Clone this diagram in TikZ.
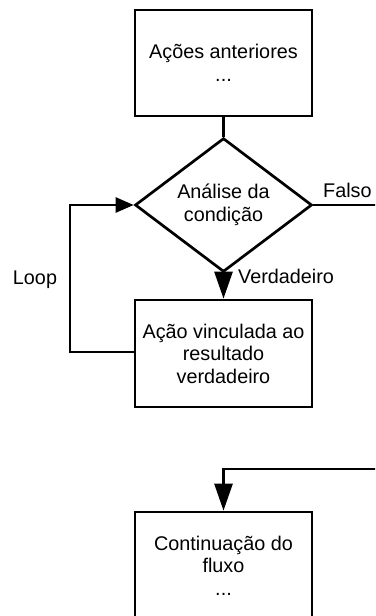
\documentclass[tikz,border=0pt]{standalone}
\usepackage{fontspec}
\setmainfont{Liberation Sans}
\usetikzlibrary{arrows.meta,shapes.geometric}
\tikzset{
  boxnode/.style={draw=black,line width=2.7pt,minimum width=177pt,minimum height=106pt,inner sep=0pt,align=center,font=\fontsize{19.8}{22.5}\selectfont},
  decnode/.style={draw=black,line width=2.7pt,shape=diamond,minimum width=177pt,minimum height=105pt,inner sep=0pt,align=center,font=\fontsize{19.8}{22.5}\selectfont},
  conn/.style={line width=2.7pt,line join=miter},
  downarrow/.style={conn,-{Triangle[length=27pt,width=18pt]}},
  sidearrow/.style={conn,-{Triangle[length=18pt,width=15pt]}},
  lbl/.style={font=\fontsize{19.8}{22.5}\selectfont,inner sep=0pt}
}
\begin{document}
\begin{tikzpicture}[x=1pt,y=-1pt]
\useasboundingbox (0,0) rectangle (375,616);
\fill[white] (0,0) rectangle (375,616);
\clip (0,0) rectangle (375,616);
\node[boxnode] (prev) at (223.5,63) {Ações anteriores\\...};
\node[decnode] (cond) at (223.5,205) {Análise da\\condição};
\node[boxnode,minimum height=107pt] (act) at (223.5,353.5) {Ação vinculada ao\\resultado\\verdadeiro};
\node[boxnode,minimum height=107pt] (cont) at (223.5,565.5) {Continuação do\\fluxo\\...};
\coordinate (falsoEnd) at (380,205);
\coordinate (retStart) at (380,469);
\coordinate (loopBot) at (70,352);
\coordinate (loopTop) at (70,205);
\draw[conn] (prev.south) -- (cond.north);
\draw[downarrow] (cond.south) -- (act.north);
\draw[conn] (cond.east) -- (falsoEnd);
\draw[sidearrow] (act.west |- loopBot) -- (loopBot) -- (loopTop) -- (cond.west);
\draw[downarrow] (retStart) -- (cont.north |- retStart) -- (cont.north);
\node[lbl,anchor=west] (lv) at (238,276) {Verdadeiro};
\node[lbl,anchor=west] (lf) at (323,190) {Falso};
\node[lbl] (ll) at (35,280) {Loop};
\end{tikzpicture}
\end{document}
